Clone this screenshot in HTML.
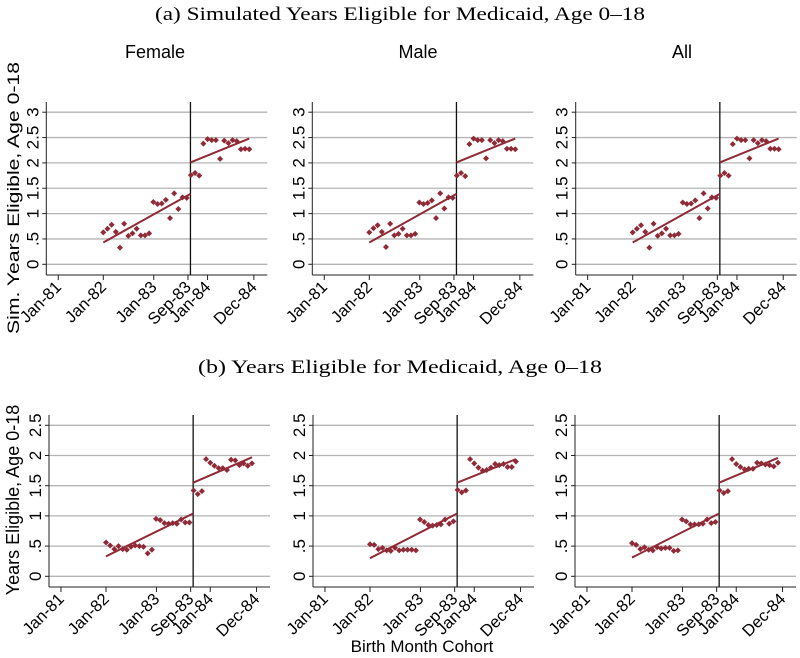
<!DOCTYPE html>
<html><head><meta charset="utf-8">
<style>
body{margin:0;background:#fff;}
svg{display:block;font-family:"Liberation Sans",sans-serif;}
</style></head>
<body>
<svg id="chart" width="800" height="658" viewBox="0 0 800 658" xmlns="http://www.w3.org/2000/svg">
<text x="400" y="20" text-anchor="middle" font-family="Liberation Serif, serif" font-size="19" textLength="490" lengthAdjust="spacingAndGlyphs">(a) Simulated Years Eligible for Medicaid, Age 0–18</text>
<text x="400" y="373" text-anchor="middle" font-family="Liberation Serif, serif" font-size="19" textLength="404" lengthAdjust="spacingAndGlyphs">(b) Years Eligible for Medicaid, Age 0–18</text>
<text x="155" y="58" text-anchor="middle" font-size="18">Female</text>
<text x="418" y="58" text-anchor="middle" font-size="18">Male</text>
<text x="682" y="58" text-anchor="middle" font-size="18">All</text>
<text transform="translate(19,198) rotate(-90)" text-anchor="middle" font-size="17" textLength="272" lengthAdjust="spacingAndGlyphs">Sim. Years Eligible, Age 0-18</text>
<text transform="translate(19,500) rotate(-90)" text-anchor="middle" font-size="18">Years Eligible, Age 0-18</text>
<text x="422" y="652" text-anchor="middle" font-size="17">Birth Month Cohort</text>
</svg>
<script>
// month index: 0 = Jan-82
const tickMonths = [-10.8, 0, 12.1, 20.3, 25.0, 36.1];
const tickLabels = ["Jan-81","Jan-82","Jan-83","Sep-83","Jan-84","Dec-84"];
const cutoffMonth = 20.9;
const topYTicks = [0, 0.5, 1, 1.5, 2, 2.5, 3];
const topYLabels = ["0", ".5", "1", "1.5", "2", "2.5", "3"];
const botYTicks = [0, 0.5, 1, 1.5, 2, 2.5];
const botYLabels = ["0", ".5", "1", "1.5", "2", "2.5"];

const femaleSimPre = [0.63,0.70,0.78,0.64,0.33,0.80,0.56,0.61,0.70,0.57,0.57,0.61,1.23,1.19,1.20,1.27,0.91,1.40,1.09,1.32,1.31];
const femaleSimPost = [1.76,1.80,1.75,2.38,2.47,2.45,2.45,2.08,2.44,2.39,2.45,2.43,2.27,2.28,2.27];
const femaleSimFit = [0.43,1.39,2.01,2.48];
const maleSimPre = [0.63,0.71,0.77,0.64,0.34,0.80,0.57,0.60,0.70,0.57,0.57,0.60,1.22,1.19,1.21,1.26,0.91,1.40,1.10,1.32,1.31];
const maleSimPost = [1.75,1.80,1.74,2.37,2.48,2.45,2.45,2.09,2.45,2.39,2.45,2.43,2.28,2.28,2.27];
const maleSimFit = [0.43,1.39,2.01,2.48];
const allSimPre = [0.63,0.70,0.77,0.64,0.33,0.80,0.56,0.61,0.70,0.57,0.57,0.60,1.22,1.19,1.20,1.26,0.91,1.40,1.10,1.32,1.31];
const allSimPost = [1.75,1.80,1.75,2.37,2.48,2.45,2.45,2.09,2.45,2.39,2.45,2.43,2.28,2.28,2.27];
const allSimFit = [0.43,1.39,2.01,2.48];

const femaleActPre = [0.56,0.51,0.45,0.50,0.45,0.44,0.49,0.51,0.50,0.49,0.38,0.44,0.95,0.93,0.88,0.87,0.88,0.87,0.94,0.89,0.89];
const femaleActPost = [1.42,1.36,1.41,1.94,1.88,1.83,1.79,1.79,1.76,1.93,1.92,1.84,1.87,1.83,1.87];
const femaleActFit = [0.33,1.04,1.55,1.97];
const maleActPre = [0.53,0.52,0.45,0.47,0.43,0.42,0.47,0.43,0.44,0.44,0.44,0.43,0.94,0.90,0.85,0.84,0.85,0.86,0.94,0.87,0.91];
const maleActPost = [1.43,1.39,1.42,1.94,1.87,1.80,1.75,1.76,1.80,1.86,1.84,1.86,1.81,1.81,1.90];
const maleActFit = [0.30,1.04,1.55,1.94];
const allActPre = [0.55,0.52,0.45,0.48,0.44,0.43,0.48,0.46,0.47,0.47,0.42,0.43,0.94,0.91,0.86,0.86,0.86,0.87,0.94,0.88,0.90];
const allActPost = [1.42,1.38,1.41,1.94,1.86,1.81,1.77,1.78,1.78,1.88,1.87,1.85,1.84,1.82,1.88];
const allActFit = [0.31,1.04,1.55,1.96];

const NS = "http://www.w3.org/2000/svg";
const svg = document.getElementById('chart');
const RED = "#8f2a36";
function mk(tag, attrs, parent){
  const e = document.createElementNS(NS, tag);
  for (const k in attrs) e.setAttribute(k, attrs[k]);
  (parent||svg).appendChild(e);
  return e;
}

const panels = [
  {id:"female-sim", x0:103.3, zeroY:264.3, ppu:50.7, top:102, axisY:275, yt:topYTicks, yl:topYLabels, pre:femaleSimPre, post:femaleSimPost, fit:femaleSimFit},
  {id:"male-sim", x0:369.3, zeroY:264.3, ppu:50.7, top:102, axisY:275, yt:topYTicks, yl:topYLabels, pre:maleSimPre, post:maleSimPost, fit:maleSimFit},
  {id:"all-sim", x0:632.7, zeroY:264.3, ppu:50.7, top:102, axisY:275, yt:topYTicks, yl:topYLabels, pre:allSimPre, post:allSimPost, fit:allSimFit},
  {id:"female-actual", x0:106, zeroY:576.3, ppu:60.4, top:415, axisY:587, yt:botYTicks, yl:botYLabels, pre:femaleActPre, post:femaleActPost, fit:femaleActFit},
  {id:"male-actual", x0:370, zeroY:576.3, ppu:60.4, top:415, axisY:587, yt:botYTicks, yl:botYLabels, pre:maleActPre, post:maleActPost, fit:maleActFit},
  {id:"all-actual", x0:632, zeroY:576.3, ppu:60.4, top:415, axisY:587, yt:botYTicks, yl:botYLabels, pre:allActPre, post:allActPost, fit:allActFit}
];
const PXM = 4.17;

panels.forEach(p => {
  const g = mk('g', {});
  
  
  const xs = m => p.x0 + m * PXM;
  const ys = v => p.zeroY - v * p.ppu;
  const left = p.x0 - 57, right = Math.min(p.x0 + 164, 800);
  p.yt.forEach((v, i) => {
    const gl = mk('line', {x1:left, x2:right, y1:ys(v), y2:ys(v), stroke:"#b4b4b4", "stroke-width":1.3}, g);
    
    
    mk('line', {x1:left-4, x2:left, y1:ys(v), y2:ys(v), stroke:"#222", "stroke-width":1}, g);
    const t = mk('text', {transform:`translate(${left-8},${ys(v)}) rotate(-90)`, "text-anchor":"middle", "font-size":"17"}, g);
    t.textContent = p.yl[i];
    
    
  });
  const ya = mk('line', {x1:left, x2:left, y1:p.top, y2:p.axisY, stroke:"#222", "stroke-width":1}, g);
  
  
  const xa = mk('line', {x1:left, x2:right, y1:p.axisY, y2:p.axisY, stroke:"#222", "stroke-width":1}, g);
  
  
  tickMonths.forEach((m, i) => {
    const x = xs(m);
    mk('line', {x1:x, x2:x, y1:p.axisY, y2:p.axisY+5, stroke:"#222", "stroke-width":1}, g);
    const t = mk('text', {transform:`translate(${x+4},${p.axisY+13}) rotate(-45)`, "text-anchor":"end", "font-size":"16.5"}, g);
    t.textContent = tickLabels[i];
    
    
  });
  const vl = mk('line', {x1:xs(cutoffMonth), x2:xs(cutoffMonth), y1:p.top, y2:p.axisY, stroke:"#111", "stroke-width":1.3}, g);
  
  
  const f1 = mk('line', {x1:xs(0), y1:ys(p.fit[0]), x2:xs(cutoffMonth), y2:ys(p.fit[1]), stroke:RED, "stroke-width":2}, g);
  
  
  const f2 = mk('line', {x1:xs(cutoffMonth), y1:ys(p.fit[2]), x2:xs(35), y2:ys(p.fit[3]), stroke:RED, "stroke-width":2}, g);
  
  
  const pts = p.pre.map((v,i)=>[i,v]).concat(p.post.map((v,i)=>[21+i,v]));
  pts.forEach(([m,v]) => {
    const x = xs(m), y = ys(v), r = 3;
    const d = mk('polygon', {points:`${x},${y-r} ${x+r},${y} ${x},${y+r} ${x-r},${y}`, fill:RED}, g);
    
    
  });
});
</script>
</body></html>
